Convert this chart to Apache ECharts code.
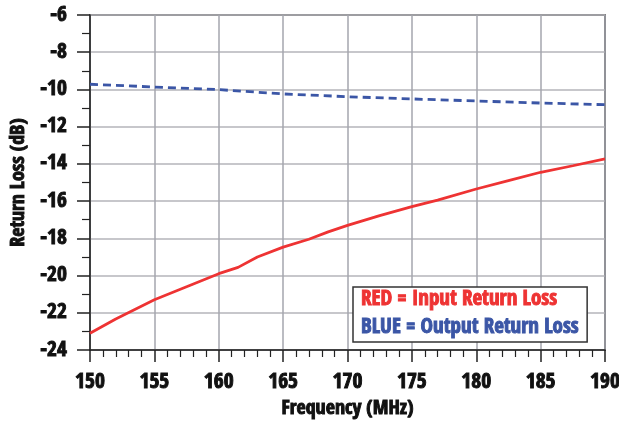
<!DOCTYPE html>
<html>
<head>
<meta charset="utf-8">
<script src="https://cdn.jsdelivr.net/npm/echarts@6/dist/echarts.min.js"></script>
<style>html,body{margin:0;padding:0;background:#fff;}#c{width:619px;height:422px;}</style>
</head>
<body>
<div id="c"></div>
<script>
const FONT = "'Open Sans Condensed', 'Roboto Condensed', 'DejaVu Sans Condensed', sans-serif";
const redFreq = [150, 152, 155, 157.5, 160, 161.5, 163, 165, 167, 168.5, 170, 172.5, 175, 177, 180, 182.5, 185, 187.5, 190];
const redVals = [-23.1, -22.33, -21.3, -20.6, -19.9, -19.56, -19.0, -18.47, -18.05, -17.65, -17.3, -16.78, -16.3, -15.95, -15.35, -14.9, -14.45, -14.1, -13.73];
const blueFreq = [150, 155, 160, 165, 170, 175, 180, 185, 190];
const blueVals = [-9.72, -9.87, -10.01, -10.24, -10.39, -10.51, -10.62, -10.73, -10.82];
const redName = 'RED = Input Return Loss';
const blueName = 'BLUE = Output Return Loss';

const TXT = '#111';
const TB = 0.95;
const chart = echarts.init(document.getElementById('c'), null, {renderer: 'canvas'});
chart.setOption({
  animation: false,
  backgroundColor: '#fff',
  grid: {left: 90, right: 14, top: 15, bottom: 72, show: true, borderColor: '#222', borderWidth: 1.5, containLabel: false, outerBoundsMode: 'none'},
  xAxis: {
    type: 'value', min: 150, max: 190, interval: 5,
    name: 'Frequency (MHz)', nameLocation: 'middle', nameGap: 49,
    nameTextStyle: {fontFamily: FONT, fontWeight: 'bold', fontSize: 20, color: TXT, textBorderColor: TXT, textBorderWidth: TB},
    axisLine: {show: true, onZero: false, lineStyle: {color: '#222', width: 1.5}},
    axisTick: {show: true, length: 12, lineStyle: {color: '#222', width: 1.5}},
    minorTick: {show: true, splitNumber: 5, length: 7, lineStyle: {color: '#222', width: 1.2}},
    axisLabel: {margin: 21, fontFamily: FONT, fontWeight: 'bold', fontSize: 21.5, color: TXT, textBorderColor: TXT, textBorderWidth: TB},
    splitLine: {show: true, lineStyle: {color: '#a4a6ae', width: 1.5}}
  },
  yAxis: {
    type: 'value', min: -24, max: -6, interval: 2,
    name: 'Return Loss (dB)', nameLocation: 'middle', nameGap: 61,
    nameTextStyle: {fontFamily: FONT, fontWeight: 'bold', fontSize: 20, color: TXT, textBorderColor: TXT, textBorderWidth: TB},
    axisLine: {show: true, onZero: false, lineStyle: {color: '#222', width: 1.5}},
    axisTick: {show: true, length: 13, lineStyle: {color: '#222', width: 1.5}},
    minorTick: {show: true, splitNumber: 2, length: 8, lineStyle: {color: '#222', width: 1.2}},
    axisLabel: {margin: 23, fontFamily: FONT, fontWeight: 'bold', fontSize: 21.5, color: TXT, textBorderColor: TXT, textBorderWidth: TB},
    splitLine: {show: true, lineStyle: {color: '#b4b5ba', width: 1.5}}
  },
  legend: {
    show: true, orient: 'vertical', left: 353, top: 287,
    icon: 'none', itemWidth: 0, itemHeight: 20, itemGap: 6,
    padding: [2, 8, 3, 3],
    backgroundColor: '#fff', borderColor: '#333', borderWidth: 1.5,
    selectedMode: false,
    textStyle: {fontFamily: FONT, fontWeight: 'bold', fontSize: 21, lineHeight: 22},
    data: [
      {name: redName, textStyle: {color: '#ee3333', textBorderColor: '#ee3333', textBorderWidth: TB}},
      {name: blueName, textStyle: {color: '#3b56a6', textBorderColor: '#3b56a6', textBorderWidth: TB}}
    ]
  },
  series: [
    {
      name: redName, type: 'line', showSymbol: false, symbol: 'none',
      data: redFreq.map((f, i) => [f, redVals[i]]),
      lineStyle: {color: '#ee3333', width: 2.8}, itemStyle: {color: '#ee3333'}, z: 3
    },
    {
      name: blueName, type: 'line', showSymbol: false, symbol: 'none',
      data: blueFreq.map((f, i) => [f, blueVals[i]]),
      lineStyle: {color: '#3b56a6', width: 2.8, type: [8, 5]}, itemStyle: {color: '#3b56a6'}, z: 3
    }
  ]
});
</script>
</body>
</html>
